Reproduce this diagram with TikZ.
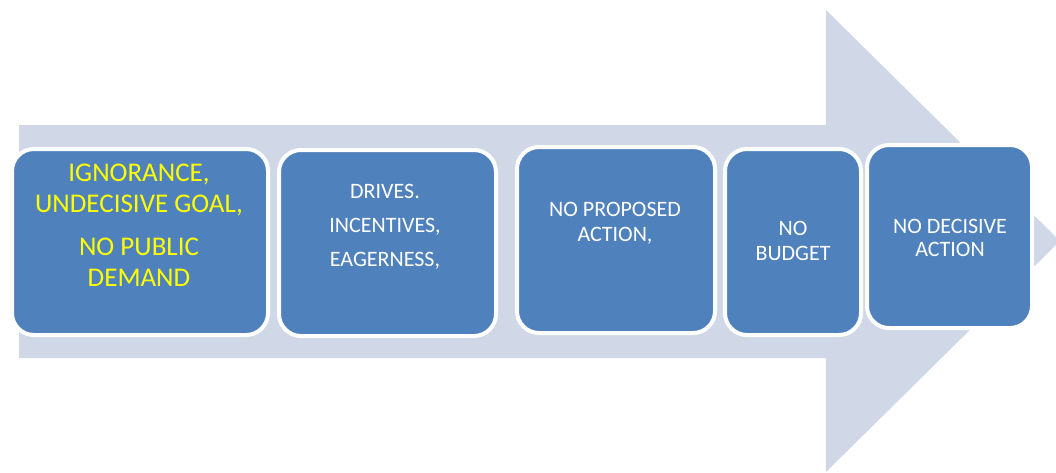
\documentclass[tikz,border=0pt]{standalone}
\usepackage{fontspec}
\setmainfont{Carlito}
\usetikzlibrary{positioning}

\definecolor{arrowgrey}{RGB}{208,216,232}
\definecolor{boxblue}{RGB}{79,129,189}
\definecolor{boxyellow}{RGB}{255,255,0}

\begin{document}
\begin{tikzpicture}[
            x=1pt, y=-1pt,
            box/.style={draw=white, line width=4pt, fill=boxblue, rounded corners=22pt, inner sep=0pt},
            boxtext/.style={text=white, align=center, inner sep=0pt, font=\fontsize{22}{25}\selectfont},
            firsttext/.style={text=boxyellow, align=center, inner sep=0pt, font=\fontsize{27}{31}\selectfont}
        ]
        \useasboundingbox (0,0) rectangle (1056,472);
        \clip (0,0) rectangle (1056,472);
        % Big arrow behind the boxes
        \fill[arrowgrey] (19,125) -- (826,125) -- (826,10) -- (1060,241)
            -- (826,472) -- (826,358) -- (19,358) -- cycle;
        % Boxes
        \node[box, minimum width=256pt, minimum height=186pt] (ignorance) at (140,242) {};
        \node[box, minimum width=217pt, minimum height=186pt] (drives) at (387.5,243) {};
        \node[box, minimum width=198pt, minimum height=186pt] (proposed) at (616,240) {};
        \node[box, minimum width=136pt, minimum height=186pt] (budget) at (793,242) {};
        \node[box, minimum width=165pt, minimum height=183pt] (decisive) at (949.5,236.5) {};
        % Texts
        \node[firsttext] (ignorancetext) at (139,225) {IGNORANCE,\\UNDECISIVE GOAL,\\[12pt]NO PUBLIC\\DEMAND};
        \node[boxtext, font=\fontsize{22}{34}\selectfont] (drivestext) at (385,227) {DRIVES.\\INCENTIVES,\\EAGERNESS,};
        \node[boxtext] (proposedtext) at (615,223) {NO PROPOSED\\ACTION,};
        \node[boxtext] (budgettext) at (793,241) {NO\\BUDGET};
        \node[boxtext, font=\fontsize{22}{23}\selectfont] (decisivetext) at (950,238) {NO DECISIVE\\ACTION};
    \end{tikzpicture}
\end{document}
